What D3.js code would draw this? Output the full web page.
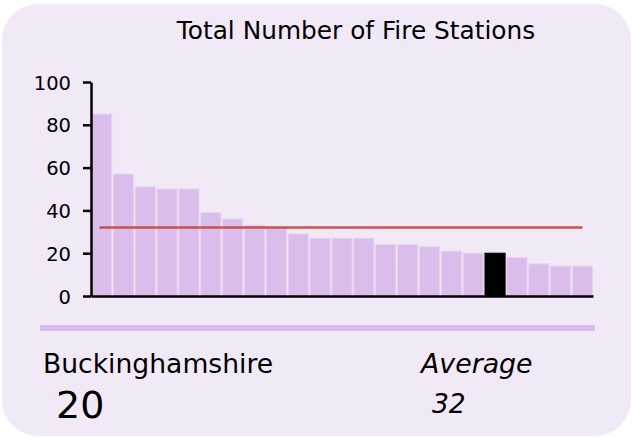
<!DOCTYPE html>
<meta charset="utf-8">
<style>
    body { margin: 0; background: #fff; }
    svg text { font-family: "DejaVu Sans", Verdana, sans-serif; fill: #000; }
    .axis path, .axis line { stroke: #000; stroke-width: 2.5px; }
    .axis text { font-size: 19.5px; }
</style>
<body>
<script src="https://d3js.org/d3.v7.min.js"></script>
<script>
    // chart values (sorted, highlighted area = Buckinghamshire)
    var values = [85, 57, 51, 50, 50, 39, 36, 33, 32, 29, 27, 27, 27, 24, 24, 23, 21, 20, 20, 18, 15, 14, 14];
    var highlightIndex = 18;
    var areaName = "Buckinghamshire";
    var areaValue = 20;
    var averageValue = 32;
    var yTicks = [0, 20, 40, 60, 80, 100];
    var title = "Total Number of Fire Stations";

    var width = 632, height = 437;

    var svg = d3.select("body").append("svg")
        .attr("width", width)
        .attr("height", height);

    // card background
    svg.append("rect")
        .attr("x", 2).attr("y", 4)
        .attr("width", 629).attr("height", 432)
        .attr("rx", 36).attr("ry", 36)
        .attr("fill", "#f2e9f7");

    svg.append("text")
        .attr("x", 356).attr("y", 39)
        .attr("text-anchor", "middle")
        .style("font-size", "24.8px")
        .text(title);

    // scales
    var x = d3.scaleBand()
        .domain(d3.range(values.length))
        .range([91, 593])
        .paddingInner(0.08)
        .paddingOuter(0.02);

    var y = d3.scaleLinear()
        .domain([0, 100])
        .range([296, 82]);

    // bars
    svg.append("g").selectAll("rect")
        .data(values)
        .enter().append("rect")
        .attr("x", function(d, i) { return x(i); })
        .attr("y", function(d) { return y(d); })
        .attr("width", x.bandwidth())
        .attr("height", function(d) { return y(0) - y(d); })
        .attr("fill", function(d, i) { return i == highlightIndex ? "#000" : "#dabdea"; })
        .attr("stroke", function(d, i) { return i == highlightIndex ? "#000" : "#e6d3f0"; })
        .attr("stroke-width", 1);

    // average line
    svg.append("line")
        .attr("x1", x(0) + x.bandwidth() / 2 - 2)
        .attr("x2", x(values.length - 1) + x.bandwidth() / 2)
        .attr("y1", y(averageValue))
        .attr("y2", y(averageValue))
        .attr("stroke", "#c9504c")
        .attr("stroke-width", 2.5);

    // y axis
    svg.append("g")
        .attr("class", "axis")
        .attr("transform", "translate(91,0)")
        .call(d3.axisLeft(y).tickValues(yTicks).tickSize(8).tickSizeOuter(0).tickPadding(12))
        .call(function(g) { g.selectAll("text").attr("dy", "0.36em"); });

    // x axis (baseline only)
    svg.append("g")
        .attr("class", "axis")
        .attr("transform", "translate(0," + y(0) + ")")
        .call(d3.axisBottom(d3.scaleLinear().range([91, 593])).ticks(0).tickSizeOuter(0));

    // separator
    svg.append("line")
        .attr("x1", 40).attr("x2", 595)
        .attr("y1", 328).attr("y2", 328)
        .attr("stroke", "#dabdea")
        .attr("stroke-width", 6);

    // footer
    svg.append("text")
        .attr("x", 43).attr("y", 373)
        .style("font-size", "26.6px")
        .text(areaName);

    svg.append("text")
        .attr("x", 56).attr("y", 418)
        .style("font-size", "38px")
        .text(areaValue);

    svg.append("text")
        .attr("x", 421).attr("y", 373)
        .style("font-size", "26.8px")
        .style("font-style", "italic")
        .text("Average");

    svg.append("text")
        .attr("x", 432).attr("y", 413)
        .style("font-size", "26.5px")
        .style("font-style", "italic")
        .text(averageValue);
</script>
</body>
